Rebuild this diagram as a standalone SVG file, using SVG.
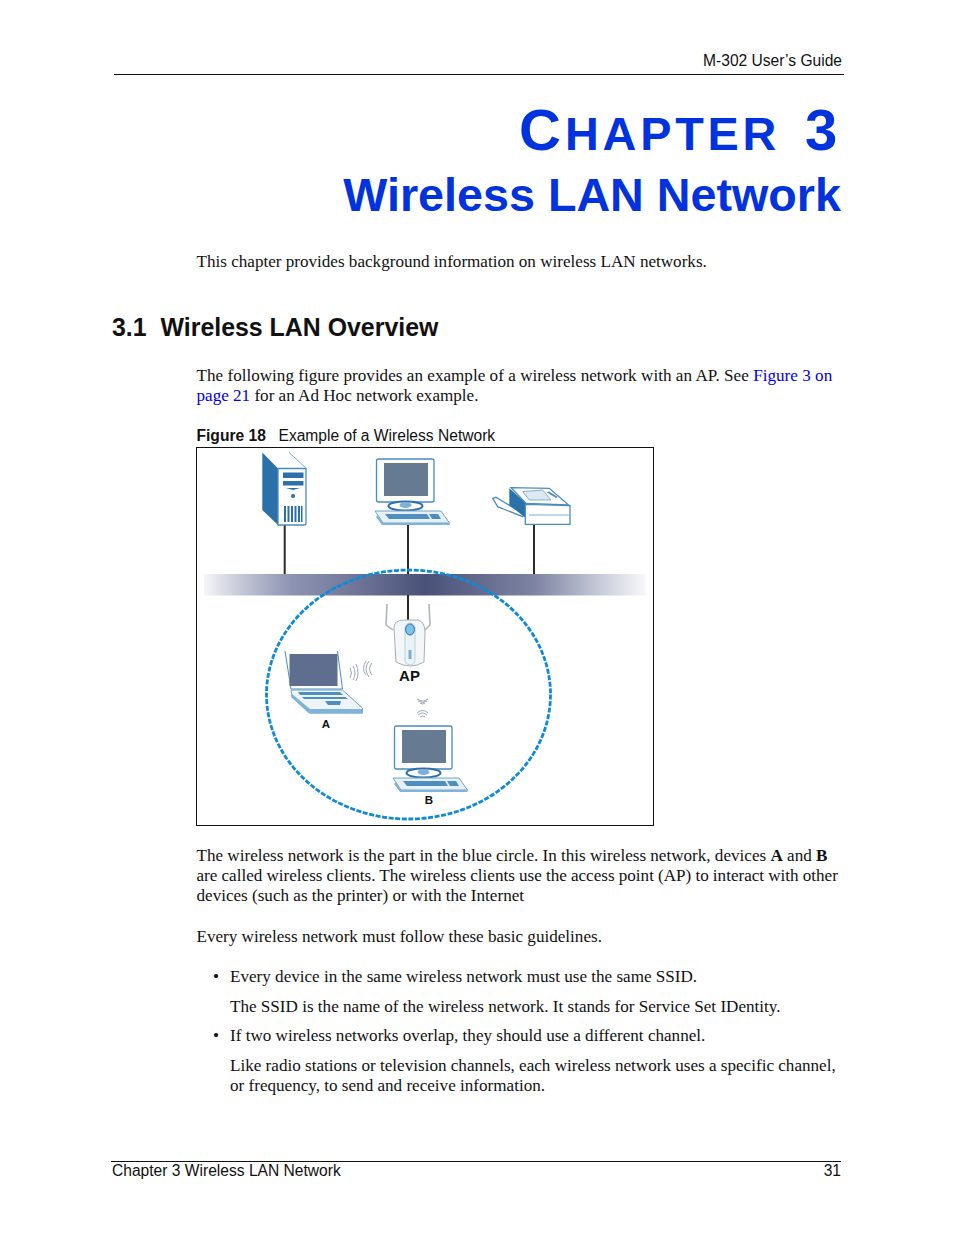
<svg xmlns="http://www.w3.org/2000/svg" width="954" height="1235" viewBox="0 0 954 1235">
<style>
.s{font-family:"Liberation Serif","Times New Roman",serif;font-size:17.1px;fill:#111}
.a{font-family:"Liberation Sans",Arial,sans-serif;fill:#111}
.h{font-family:"Liberation Sans",Arial,sans-serif;font-weight:700;fill:#0033dd}
.l{fill:#0000ee}
.i{fill:#fff;stroke:#4a8cbe;stroke-width:1.300}
.f{fill:#2b70a8}
.m{fill:#4f8fc0}
.g{fill:#667a92}
.p{fill:none;stroke:#7fb0d0;stroke-width:1}
.c{fill:none;stroke:#2a2a2a;stroke-width:2}
</style>
<defs>
<linearGradient id="band" x1="0" x2="1" y1="0" y2="0">
<stop offset="0" stop-color="#4a5580" stop-opacity=".05"/>
<stop offset=".2" stop-color="#666f98" stop-opacity=".75"/>
<stop offset=".5" stop-color="#4a5178"/>
<stop offset=".75" stop-color="#6f7698" stop-opacity=".9"/>
<stop offset="1" stop-color="#7a82a5" stop-opacity=".05"/>
</linearGradient>
<g id="pc">
<rect class="i" x="376.500" y="459" width="57.500" height="43" rx="2"/>
<rect class="g" x="384" y="463" width="44" height="33"/>
<ellipse cx="405.500" cy="506" rx="17" ry="4.500" fill="#fff" stroke="#2b70a8" stroke-width="2"/>
<ellipse cx="405.500" cy="505" rx="6" ry="3" fill="#7fb0d8"/>
<path fill="#e6f0f6" stroke="#6fa4c8" d="M375 511H441L449.500 523H383Z"/>
<path class="m" d="M385 514H427L430 519H389ZM429 514H438L441 519H432Z"/>
<path fill="#7fb4d8" d="M378 515L383 523H449.500V525H382L376 517Z"/>
</g>
</defs>
<text class="a" x="842" y="66" font-size="15.600" text-anchor="end">M-302 User’s Guide</text>
<path d="M114 74.500H844" stroke="#111" fill="none"/>
<text class="h" x="519" y="150" font-size="58">C</text>
<text class="h" x="565" y="150" font-size="46.800" letter-spacing="3.800">HAPTER</text>
<text class="h" x="805" y="150" font-size="58">3</text>
<text class="h" x="841" y="211" text-anchor="end" font-size="46.700">Wireless LAN Network</text>
<text class="s" x="196.500" y="267">This chapter provides background information on wireless LAN networks.</text>
<text class="a" x="112" y="336" font-size="24.900" font-weight="700">3.1</text>
<text class="a" x="160.500" y="336" font-size="24.900" font-weight="700">Wireless LAN Overview</text>
<text class="s" x="196.500" y="381" word-spacing=".12">The following figure provides an example of a wireless network with an AP. See <tspan class="l">Figure 3 on</tspan></text>
<text class="s" x="196.500" y="401"><tspan class="l">page 21</tspan> for an Ad Hoc network example.</text>
<text class="a" x="196.500" y="441" font-size="15.600" font-weight="700">Figure 18</text>
<text class="a" x="278.500" y="441" font-size="15.600">Example of a Wireless Network</text>
<rect x="196.500" y="447.500" width="457" height="378" fill="#fff" stroke="#111"/>
<rect x="204" y="574" width="442" height="21.500" fill="url(#band)"/>
<g id="connectors">
<path class="c" d="M284.700 525V574M408 524V574M408 595V622M534 524V574"/>
</g>
<g id="server">
<path class="f" d="M262.300 452.500L278 468.500V525L262.300 510Z"/>
<path class="i" d="M278 468.500H306V523Q306 525 304 525H278Z"/>
<path class="p" stroke="#2b70a8" d="M289 452.500L306 468"/>
<path class="f" d="M283 472.500H303.500V478H283ZM283 481H303.500V485.500H283ZM286 488H300L293 490Z"/>
<circle class="f" cx="293" cy="496" r="2"/>
<path class="f" d="M284 506h2v16h-2zM287.500 506h2v16h-2zM291 506h2v16h-2zM294.500 506h2v16h-2zM298 506h2v16h-2zM301 506h1.500v16h-1.500z"/>
</g>
<g id="workstation"><use href="#pc"/></g>
<g id="printer">
<path class="i" d="M492.700 498.300L496 497.300L524.300 514.300L522.700 516.700L506 510L497.700 506.700Z"/>
<path class="f" d="M509.300 488.300L526 503.300V518.300L509.300 505Z"/>
<path class="i" d="M511 487.700L549.300 488.300L568.700 505L526 503.300Z"/>
<path class="i" d="M525.300 504.300L570 505.700V524.300H525.300Z"/>
<path fill="#dce9f2" stroke="#7fb0d0" d="M522.700 491.700L542.700 490L551 500H529.300Z"/>
<path class="m" d="M549 491.500L558 497L556 498L547 492.500Z"/>
<path class="p" d="M529 515H569"/>
</g>
<ellipse cx="408.500" cy="694.500" rx="142" ry="124.500" fill="none" stroke="#0e8ad6" stroke-width="2.800" stroke-dasharray="5 1.600"/>
<g id="ap">
<path fill="none" stroke="#aab2b8" stroke-width="1.500" d="M387 604L386 625L393 630M429 604L430 625L425 630"/>
<path d="M394 628Q394 620 404 620H418Q425 622 425 632L424 662Q410 670 396 662Z" fill="#f4f6f7" stroke="#a5afb6"/>
<rect x="405" y="623" width="10" height="42" rx="5" fill="#eaf3f9" stroke="#b7d2e4"/>
<ellipse cx="410" cy="629.500" rx="4.500" ry="5.500" fill="#7fc0e6" stroke="#2b70a8"/>
<path class="m" d="M408.500 650h3v9h-3z" opacity=".7"/>
<text class="a" x="409.500" y="681" font-size="15" font-weight="700" text-anchor="middle">AP</text>
</g>
<g id="laptop-a">
<path fill="none" stroke="#4a8cbe" d="M285 651L291 689H342.500L337.500 651"/>
<rect x="289.500" y="654" width="48" height="32" fill="#5f6d8e"/>
<path fill="#eef4f8" stroke="#6fa4c8" d="M291 690H342.500L362.500 708V713H310L292 696Z"/>
<path class="m" d="M298 692H340L343 695H300ZM302 697H345L348 699H304ZM325 701H341L340 705H328Z"/>
<path fill="#7fb4d8" d="M292 694L310 709H362.500V713.500H309L291 697Z"/>
<text class="a" x="326" y="728" font-size="11.500" font-weight="700" text-anchor="middle">A</text>
</g>
<g id="waves" fill="none" stroke="#9aa7b5" stroke-width="1">
<path d="M350 668Q353 673 350 678M353 666Q357 673 353 680M356 664Q360 673 356 681M372 663Q367 669 372 675M369 661Q363 669 369 677M366 661Q361 669 366 675"/>
<path d="M417 699Q423 703 428 699M418 701Q423 704 427 701M420 703Q423 705 425 703M417 713Q423 708 428 713M418 715Q423 711 427 715M420 717Q423 715 425 717"/>
</g>
<g id="pc-b"><use href="#pc" x="18" y="267"/>
<text class="a" x="429" y="804" font-size="11.500" font-weight="700" text-anchor="middle">B</text></g>
<text class="s" x="196.500" y="861">The wireless network is the part in the blue circle. In this wireless network, devices <tspan font-weight="700">A</tspan> and <tspan font-weight="700">B</tspan></text>
<text class="s" x="196.500" y="881" word-spacing="-.13">are called wireless clients. The wireless clients use the access point (AP) to interact with other</text>
<text class="s" x="196.500" y="901">devices (such as the printer) or with the Internet</text>
<text class="s" x="196.500" y="942">Every wireless network must follow these basic guidelines.</text>
<text class="s" x="213" y="982">•</text>
<text class="s" x="230" y="982">Every device in the same wireless network must use the same SSID.</text>
<text class="s" x="230" y="1012">The SSID is the name of the wireless network. It stands for Service Set IDentity.</text>
<text class="s" x="213" y="1041">•</text>
<text class="s" x="230" y="1041">If two wireless networks overlap, they should use a different channel.</text>
<text class="s" x="230" y="1071">Like radio stations or television channels, each wireless network uses a specific channel,</text>
<text class="s" x="230" y="1091">or frequency, to send and receive information.</text>
<path d="M111 1161.500H841" stroke="#111" fill="none"/>
<text class="a" x="112" y="1176" font-size="15.600">Chapter 3 Wireless LAN Network</text>
<text class="a" x="841" y="1176" font-size="15.600" text-anchor="end">31</text>
</svg>
